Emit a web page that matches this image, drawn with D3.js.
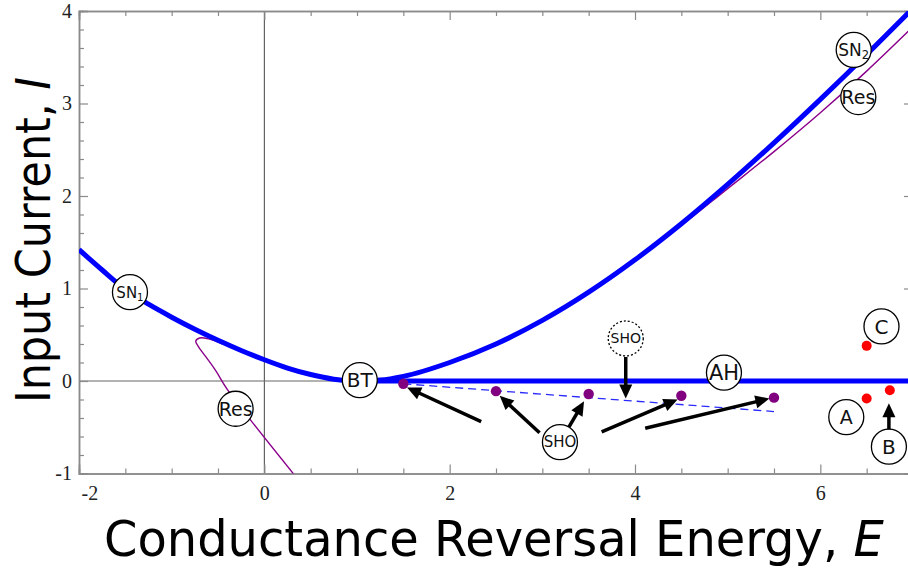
<!DOCTYPE html>
<html><head><meta charset="utf-8">
<script src="https://cdn.jsdelivr.net/npm/d3@7"></script>
<style>body{margin:0;background:#fff}svg{display:block;overflow:hidden}</style>
</head><body><svg id="chart" width="908" height="568"></svg>
<script>
// Saddle-node curve, branch left of the BT point
const snLeftE = [-2, -1.75, -1.5, -1.25, -1, -0.75, -0.5, -0.25, 0, 0.25, 0.5, 0.75, 1];
const snLeftI = [1.42, 1.20, 0.99, 0.83, 0.69, 0.56, 0.44, 0.33, 0.23, 0.14, 0.07, 0.02, 0];
// Saddle-node curve, branch right of the BT point
const snRightE = [1, 1.25, 1.5, 2, 2.5, 3, 3.5, 4, 4.5, 5, 5.5, 6, 6.5, 7];
const snRightI = [0, 0.01, 0.05, 0.20, 0.40, 0.655, 0.96, 1.31, 1.70, 2.125, 2.575, 3.045, 3.53, 4.03];
// Andronov-Hopf line from BT
const hopfE = [1, 7];
const hopfI = [0, 0];
// Resonance curves
const resRightE = [3.5, 4, 4.5, 5, 5.5, 6, 6.5, 7];
const resRightI = [0.96, 1.30, 1.68, 2.08, 2.48, 2.90, 3.35, 3.83];
const resLeftE = [-0.45, -0.60, -0.70, -0.74, -0.71, -0.63, -0.53, -0.40, -0.15, 0.36];
const resLeftI = [0.40, 0.455, 0.465, 0.43, 0.37, 0.26, 0.12, -0.09, -0.42, -1.06];
// Small homoclinic orbit points and the line through them
const shoE = [1.5, 2.5, 3.5, 4.5, 5.5];
const shoI = [-0.03, -0.11, -0.14, -0.16, -0.18];
const shoLineE = [1.5, 5.5];
const shoLineI = [-0.03, -0.33];
// Sample parameter points A, B, C
const redE = [6.5, 6.5, 6.75];
const redI = [0.38, -0.19, -0.10];
// Tick labels
const xTicks = [-2, 0, 2, 4, 6];
const yTicks = [-1, 0, 1, 2, 3, 4];
// Circled labels
const labelText = ["SN", "Res", "BT", "SHO", "AH", "SHO", "A", "B", "C", "SN", "Res"];
const labelSub  = ["1", "", "", "", "", "", "", "", "", "2", ""];
const labelE    = [-1.45, -0.31, 1.03, 3.90, 4.96, 3.19, 6.28, 6.74, 6.66, 6.36, 6.41];
const labelI    = [0.96, -0.30, 0.01, 0.46, 0.09, -0.66, -0.39, -0.71, 0.59, 3.58, 3.07];
const labelSize = [15, 19, 20, 14, 21, 15, 19, 20, 20, 17, 19];
const labelDash = [false, false, false, true, false, false, false, false, false, false, false];
// Arrows: start and tip
const arrowE0 = [2.34, 2.97, 3.28, 3.64, 4.11, 3.90, 6.74];
const arrowI0 = [-0.44, -0.56, -0.51, -0.55, -0.51, 0.26, -0.55];
const arrowE1 = [1.54, 2.54, 3.45, 4.46, 5.45, 3.90, 6.74];
const arrowI1 = [-0.07, -0.16, -0.22, -0.20, -0.19, -0.19, -0.24];

const svg = d3.select("#chart");
const x = d3.scaleLinear().domain([-2, 7]).range([79, 913]);
const y = d3.scaleLinear().domain([-1, 4]).range([473.5, 11]);
const X0 = x(-2), X1 = x(7), Y0 = y(-1), Y1 = y(4);

svg.append("defs").append("clipPath").attr("id", "plot")
  .append("rect").attr("x", X0).attr("y", Y1).attr("width", X1 - X0).attr("height", Y0 - Y1);

const axisColor = "#8a8a8a";
// zero lines
svg.append("line").attr("x1", x(0)).attr("x2", x(0)).attr("y1", Y1).attr("y2", Y0)
  .attr("stroke", "#444").attr("stroke-width", 1);
svg.append("line").attr("x1", X0).attr("x2", X1).attr("y1", y(0)).attr("y2", y(0))
  .attr("stroke", "#666").attr("stroke-width", 1);

// frame with inward ticks on all four sides
const xMinor = d3.range(-2, 7.01, 0.5).filter(v => !xTicks.includes(v));
const yMinor = d3.range(-1, 4.01, 0.2).map(v => +v.toFixed(1)).filter(v => !yTicks.includes(v));
function drawAxis(axisFn, scale, pos, major, minor, labels) {
  const g1 = svg.append("g").attr("transform", pos)
    .call(axisFn(scale).tickValues(major).tickSize(-9).tickPadding(labels ? 14 : 0)
      .tickFormat(labels ? (d => String(d).replace("−", "-")) : ""));
  const g2 = svg.append("g").attr("transform", pos)
    .call(axisFn(scale).tickValues(minor).tickSize(-5).tickFormat(""));
  [g1, g2].forEach(g => {
    g.select(".domain").attr("stroke", axisColor).attr("stroke-width", 1.5);
    g.selectAll(".tick line").attr("stroke", axisColor).attr("stroke-width", 1.2);
  });
  g1.selectAll("text").attr("fill", "#222").style("font-family", "'Liberation Serif', serif").style("font-size", "20px");
  return g1;
}
const gx = drawAxis(d3.axisBottom, x, `translate(0,${Y0})`, xTicks, xMinor, true);
gx.selectAll("text").attr("dy", "0.6em");
gx.selectAll(".tick").filter(d => d === -2).select("text").attr("text-anchor", "start").attr("x", 2);
drawAxis(d3.axisTop, x, `translate(0,${Y1})`, xTicks, xMinor, false);
const gy = drawAxis(d3.axisLeft, y, `translate(${X0},0)`, yTicks, yMinor, true);
gy.selectAll("text").attr("x", -7);
drawAxis(d3.axisRight, y, `translate(${X1},0)`, yTicks, yMinor, false);

const plot = svg.append("g").attr("clip-path", "url(#plot)");
const zip = (a, b) => a.map((v, i) => [v, b[i]]);
const fnLine = d3.line().x(d => x(d[0])).y(d => y(d[1])).curve(d3.curveMonotoneX);
const loopLine = d3.line().x(d => x(d[0])).y(d => y(d[1])).curve(d3.curveCatmullRom);
const straight = d3.line().x(d => x(d[0])).y(d => y(d[1]));

// resonance curves (thin purple)
plot.append("path").attr("d", fnLine(zip(resRightE, resRightI)))
  .attr("fill", "none").attr("stroke", "#8b008b").attr("stroke-width", 1.4);
plot.append("path").attr("d", loopLine(zip(resLeftE, resLeftI)))
  .attr("fill", "none").attr("stroke", "#8b008b").attr("stroke-width", 1.4);
// saddle-node and Hopf (thick blue)
plot.append("path").attr("d", fnLine(zip(snLeftE, snLeftI).concat(zip(snRightE, snRightI).slice(1))))
  .attr("fill", "none").attr("stroke", "#0000ff").attr("stroke-width", 5);
plot.append("path").attr("d", straight(zip(hopfE, hopfI)))
  .attr("fill", "none").attr("stroke", "#0000ff").attr("stroke-width", 5);
// SHO line (dashed)
plot.append("path").attr("d", straight(zip(shoLineE, shoLineI)))
  .attr("fill", "none").attr("stroke", "#2a2aff").attr("stroke-width", 1.3).attr("stroke-dasharray", "8,5");
// SHO points
plot.selectAll(".sho").data(zip(shoE, shoI)).join("circle")
  .attr("cx", d => x(d[0])).attr("cy", d => y(d[1])).attr("r", 5.2).attr("fill", "#800080");
// A, B, C points
plot.selectAll(".red").data(zip(redE, redI)).join("circle")
  .attr("cx", d => x(d[0])).attr("cy", d => y(d[1])).attr("r", 5).attr("fill", "#ff0000");

// arrows
arrowE0.forEach((e0, i) => {
  const ax = x(e0), ay = y(arrowI0[i]), bx = x(arrowE1[i]), by = y(arrowI1[i]);
  const ang = Math.atan2(by - ay, bx - ax), L = 14, W = 6.5;
  const cx = bx - L * Math.cos(ang), cy = by - L * Math.sin(ang);
  svg.append("line").attr("x1", ax).attr("y1", ay).attr("x2", cx + 2 * Math.cos(ang)).attr("y2", cy + 2 * Math.sin(ang))
    .attr("stroke", "#000").attr("stroke-width", 3.5);
  const px = -Math.sin(ang), py = Math.cos(ang);
  svg.append("path").attr("d", `M${bx},${by}L${cx + W * px},${cy + W * py}L${cx - W * px},${cy - W * py}Z`)
    .attr("fill", "#000");
});

// circled labels
labelText.forEach((t, i) => {
  const g = svg.append("g").attr("transform", `translate(${x(labelE[i])},${y(labelI[i])})`);
  g.append("circle").attr("r", 17.5).attr("fill", "#fff").attr("stroke", "#000")
    .attr("stroke-width", 1.3).attr("stroke-dasharray", labelDash[i] ? "2,2" : null);
  const tx = g.append("text").attr("text-anchor", "middle").attr("dy", "0.36em")
    .style("font-family", "'DejaVu Sans', sans-serif").style("font-size", labelSize[i] + "px").attr("fill", "#111");
  tx.append("tspan").text(t);
  if (labelSub[i]) tx.append("tspan").attr("dy", "0.3em").style("font-size", (labelSize[i] * 0.68) + "px").text(labelSub[i]);
});

// axis titles, horizontally squeezed to their set widths
const titleFont = "'DejaVu Sans', sans-serif";
function title(tx, ty, rot, width, size, plain, ital) {
  const g = svg.append("g");
  const t = g.append("text").style("font-family", titleFont).style("font-size", size + "px").attr("fill", "#000");
  t.append("tspan").text(plain);
  t.append("tspan").style("font-style", "italic").text(ital);
  const k = width / t.node().getComputedTextLength();
  g.attr("transform", `translate(${tx},${ty}) rotate(${rot}) scale(${k},1)`);
}
title(104, 556, 0, 780, 50, "Conductance Reversal Energy,\u00a0", "E");
title(50, 403, -90, 326, 48, "Input Current,\u00a0", "I");
</script></body></html>
